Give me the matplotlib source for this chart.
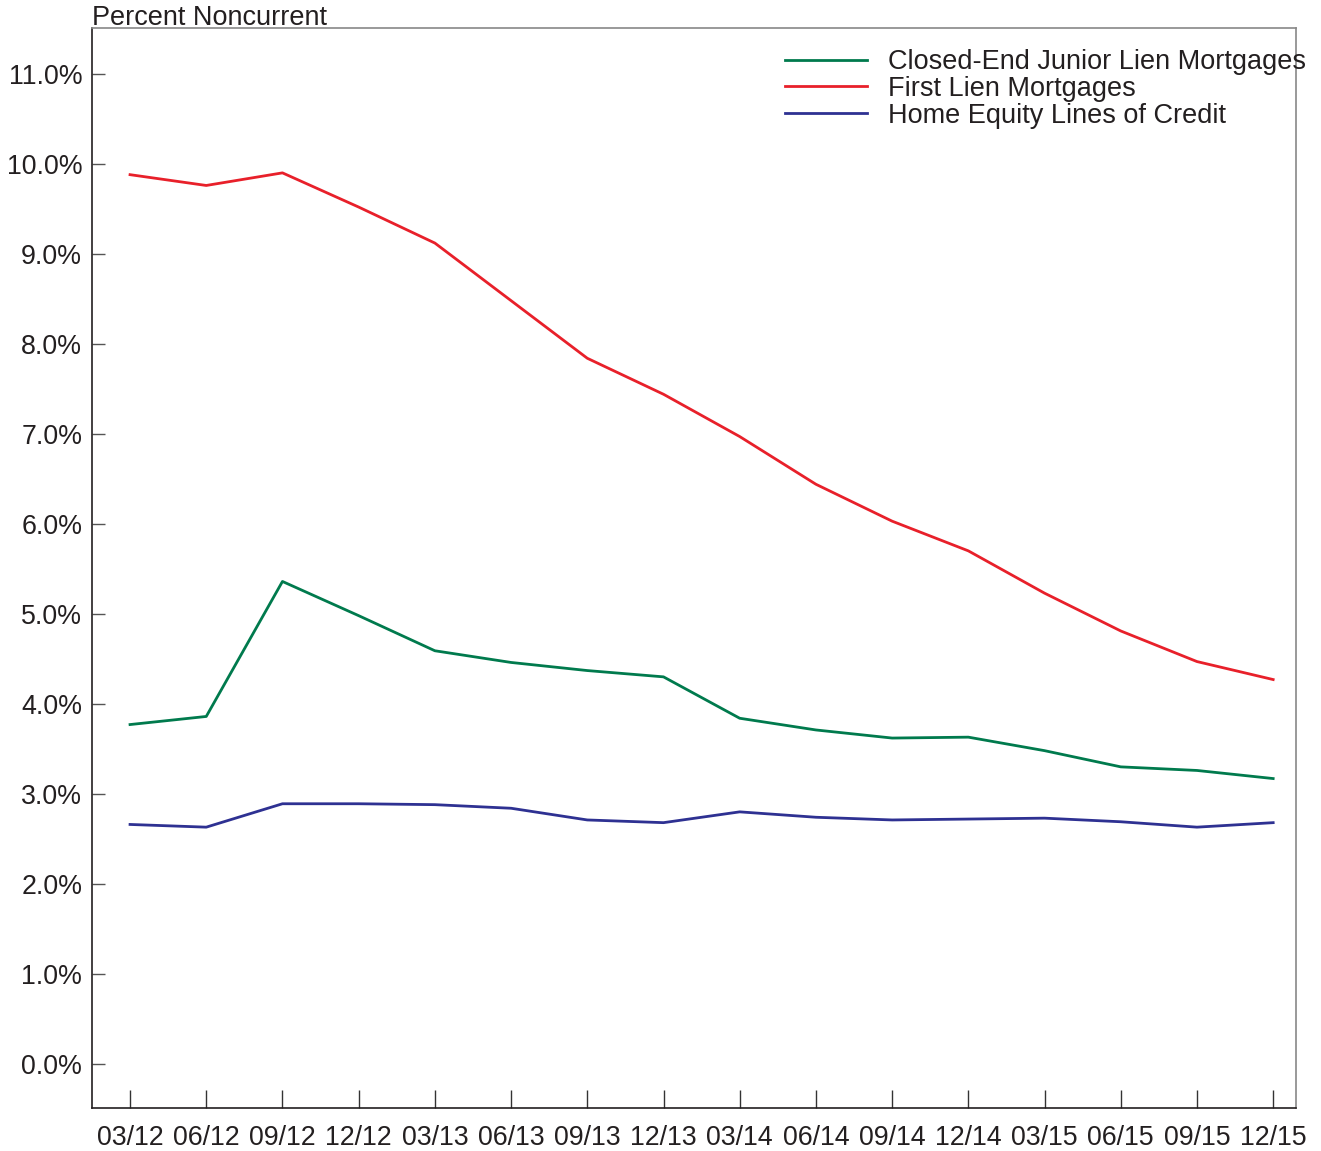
import matplotlib
matplotlib.use('Agg')
import matplotlib.pyplot as plt
import numpy as np

plt.rcParams['font.family'] = ['Liberation Sans', 'DejaVu Sans']

# Quarter labels
quarters = ['03/12', '06/12', '09/12', '12/12', '03/13', '06/13', '09/13', '12/13',
            '03/14', '06/14', '09/14', '12/14', '03/15', '06/15', '09/15', '12/15']

# Percent noncurrent by loan type
junior_lien = [3.77, 3.86, 5.36, 4.98, 4.59, 4.46, 4.37, 4.30,
               3.84, 3.71, 3.62, 3.63, 3.48, 3.30, 3.26, 3.17]
first_lien = [9.88, 9.76, 9.90, 9.52, 9.12, 8.48, 7.84, 7.44,
              6.97, 6.44, 6.03, 5.70, 5.23, 4.81, 4.47, 4.27]
heloc = [2.66, 2.63, 2.89, 2.89, 2.88, 2.84, 2.71, 2.68,
         2.80, 2.74, 2.71, 2.72, 2.73, 2.69, 2.63, 2.68]

yticks = np.arange(0, 12, 1.0)

fig = plt.figure(figsize=(13.21, 11.51), dpi=100)
ax = fig.add_axes([0.0696, 0.0374, 0.9115, 0.9383])

x = np.arange(len(quarters))
ax.plot(x, junior_lien, color='#007a4d', lw=2.0, label='Closed-End Junior Lien Mortgages')
ax.plot(x, first_lien, color='#e8202a', lw=2.0, label='First Lien Mortgages')
ax.plot(x, heloc, color='#2e3192', lw=2.0, label='Home Equity Lines of Credit')

ax.set_xlim(-0.5, 15.3)
ax.set_ylim(-0.49, 11.51)
ax.set_xticks(x)
ax.set_xticklabels(quarters)
ax.set_yticks(yticks)
ax.set_yticklabels(['%.1f%%' % v for v in yticks])

ax.tick_params(axis='x', direction='in', length=13, width=1, color='#333333',
               labelsize=19.3, labelcolor='#231f20', pad=12.5)
ax.tick_params(axis='y', direction='in', length=9, width=1, color='#555555',
               labelsize=19.3, labelcolor='#231f20', pad=7)

for side in ['left', 'bottom']:
    ax.spines[side].set_color('#231f20')
    ax.spines[side].set_linewidth(1.2)
for side in ['top', 'right']:
    ax.spines[side].set_color('#888888')
    ax.spines[side].set_linewidth(1.2)

ax.text(0.0, 0.997, 'Percent Noncurrent', transform=ax.transAxes, fontsize=19.5,
        color='#231f20', ha='left', va='bottom')

leg = ax.legend(loc='upper left', bbox_to_anchor=(0.576, 0.9805), frameon=False,
                fontsize=19.5, handlelength=3.0, handletextpad=0.78, labelspacing=0.03,
                borderaxespad=0, borderpad=0)
for t in leg.get_texts():
    t.set_color('#231f20')

fig.savefig('out.png', dpi=100)
